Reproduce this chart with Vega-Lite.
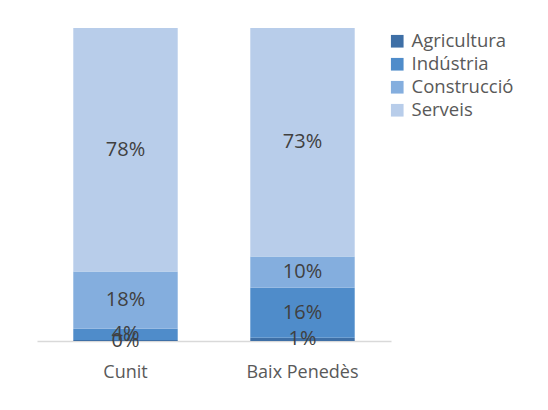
{
  "$schema": "https://vega.github.io/schema/vega-lite/v6.json",
  "width": 354,
  "height": 313,
  "autosize": "none",
  "padding": {"left": 37, "top": 28, "right": 157, "bottom": 69},
  "background": "white",
  "config": {"view": {"stroke": null}, "font": "Open Sans"},
  "data": {
    "values": [
      {"zona": "Cunit", "sector": "Agricultura", "ord": 1, "pct": 0.3, "label": "0%"},
      {"zona": "Cunit", "sector": "Indústria", "ord": 2, "pct": 3.6, "label": "4%"},
      {"zona": "Cunit", "sector": "Construcció", "ord": 3, "pct": 18.3, "label": "18%"},
      {"zona": "Cunit", "sector": "Serveis", "ord": 4, "pct": 77.8, "label": "78%"},
      {"zona": "Baix Penedès", "sector": "Agricultura", "ord": 1, "pct": 1.0, "label": "1%"},
      {"zona": "Baix Penedès", "sector": "Indústria", "ord": 2, "pct": 16.0, "label": "16%"},
      {"zona": "Baix Penedès", "sector": "Construcció", "ord": 3, "pct": 10.0, "label": "10%"},
      {"zona": "Baix Penedès", "sector": "Serveis", "ord": 4, "pct": 73.0, "label": "73%"}
    ]
  },
  "transform": [
    {"stack": "pct", "groupby": ["zona"], "sort": [{"field": "ord", "order": "ascending"}], "as": ["y0", "y1"]},
    {"calculate": "(datum.y0 + datum.y1) / 2", "as": "ymid"}
  ],
  "encoding": {
    "x": {
      "field": "zona", "type": "nominal", "sort": ["Cunit", "Baix Penedès"], "title": null,
      "scale": {"paddingInner": 0.41, "paddingOuter": 0.205},
      "axis": {"domainColor": "#d9d9d9", "domainWidth": 1.5, "ticks": false, "labelAngle": 0, "labelFontSize": 18, "labelColor": "#595959", "labelPadding": 22, "labelFont": "Open Sans"}
    }
  },
  "layer": [
    {
      "mark": {"type": "bar", "stroke": null},
      "encoding": {
        "y": {"field": "y0", "type": "quantitative", "scale": {"domain": [0, 100], "nice": false}, "axis": null},
        "y2": {"field": "y1"},
        "color": {
          "field": "sector", "type": "nominal",
          "scale": {"domain": ["Agricultura", "Indústria", "Construcció", "Serveis"], "range": ["#3e6fa6", "#4f8cca", "#84aede", "#b8cdea"]},
          "legend": {"title": null, "orient": "none", "legendX": 351, "legendY": 4, "symbolType": "square", "symbolSize": 160, "symbolStrokeWidth": 0, "labelFontSize": 18.5, "labelColor": "#595959", "labelFont": "Open Sans", "rowPadding": 4, "labelOffset": 5}
        }
      }
    },
    {
      "mark": {"type": "text", "fontSize": 20, "color": "#404040", "baseline": "middle", "font": "Open Sans"},
      "encoding": {
        "y": {"field": "ymid", "type": "quantitative", "scale": {"domain": [0, 100], "nice": false}},
        "text": {"field": "label"}
      }
    }
  ]
}
